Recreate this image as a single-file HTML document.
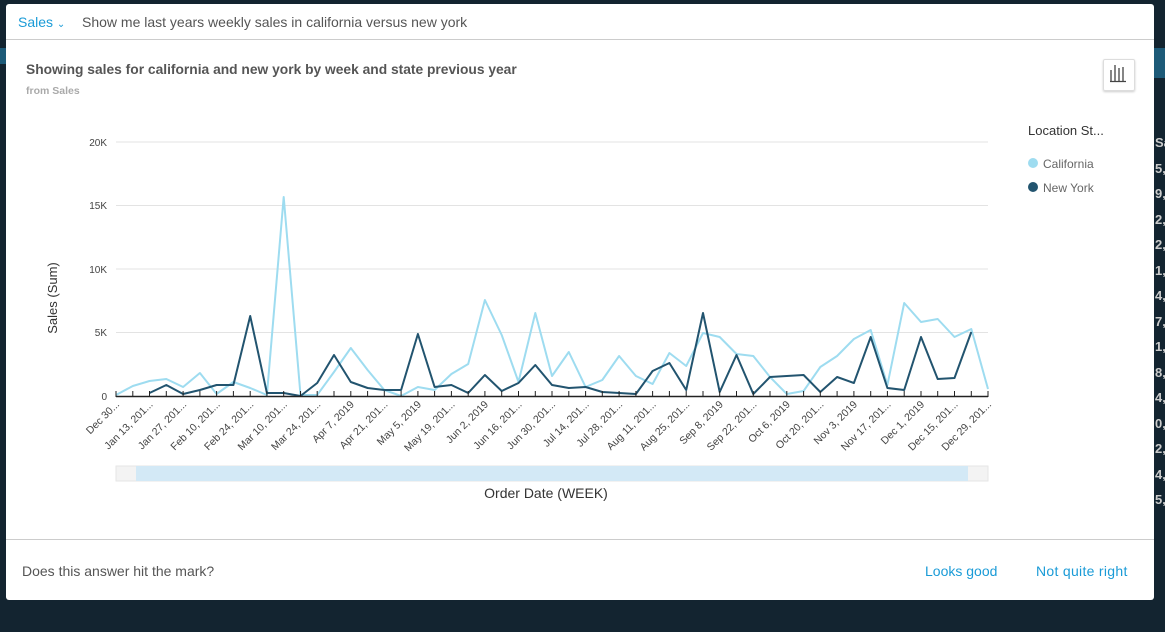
<!DOCTYPE html>
<html><head><meta charset="utf-8"><style>
body{margin:0;width:1165px;height:632px;background:#132430;font-family:"Liberation Sans",sans-serif;position:relative;overflow:hidden}
.modal{position:absolute;left:6px;top:4px;width:1148px;height:596px;background:#fff;border-radius:3px}
.t{position:absolute;white-space:nowrap}
</style></head><body>
<div class="t" style="left:0;top:48px;width:6px;height:16px;background:#1d5a78"></div>
<div class="t" style="left:1154px;top:48px;width:11px;height:30px;background:#1d5a78"></div>
<div class="t" style="left:1155px;top:130px;color:#ccc;font-size:13px;line-height:25.5px;font-weight:bold">Sa<br>5,<br>9,<br>2,<br>2,<br>1,<br>4,<br>7,<br>1,<br>8,<br>4,<br>0,<br>2,<br>4,<br>5,</div>
<div class="modal">
<div class="t" style="left:12px;top:10px;font-size:14px;color:#1a9bd7">Sales <span style="font-size:10px">&#8964;</span></div>
<div class="t" style="left:76px;top:10px;font-size:14px;color:#555">Show me last years weekly sales in california versus new york</div>
<div class="t" style="left:0;top:35px;width:1148px;height:1px;background:#ccc"></div>
<div class="t" style="left:20px;top:58px;font-size:13.8px;font-weight:bold;color:#555">Showing sales for california and new york by week and state previous year</div>
<div class="t" style="left:20px;top:81px;font-size:10.5px;font-weight:bold;color:#aaa">from Sales</div>
<div class="t" style="left:1097px;top:55px;width:30px;height:30px;border:1px solid #ddd;border-radius:2px;box-shadow:0 1px 2px #ccc"></div>
<div class="t" style="left:0;top:535px;width:1148px;height:1px;background:#ccc"></div>
<div class="t" style="left:16px;top:559px;font-size:14px;color:#555">Does this answer hit the mark?</div>
<div class="t" style="left:919px;top:559px;font-size:14px;color:#1a9bd7">Looks good</div>
<div class="t" style="left:1030px;top:559px;font-size:14px;color:#1a9bd7;letter-spacing:0.3px">Not quite right</div>
</div>
<svg width="1165" height="632" style="position:absolute;left:0;top:0" font-family="Liberation Sans, sans-serif">
<g fill="none" stroke="#444" stroke-width="1.3"><path d="M1111 81V70M1115 81V65M1119 81V68M1123 81V67M1110 81.5H1126"/></g>
<g stroke="#e3e3e3" stroke-width="1"><line x1="116" x2="988" y1="142" y2="142"/><line x1="116" x2="988" y1="205.5" y2="205.5"/><line x1="116" x2="988" y1="269" y2="269"/><line x1="116" x2="988" y1="332.5" y2="332.5"/></g>
<g font-size="10" fill="#444" text-anchor="end"><text x="107" y="146">20K</text><text x="107" y="209">15K</text><text x="107" y="273">10K</text><text x="107" y="336">5K</text><text x="107" y="400">0</text></g>
<text transform="translate(57,298) rotate(-90)" font-size="13" fill="#333" text-anchor="middle">Sales (Sum)</text>
<polyline fill="none" stroke="#9edcf0" stroke-width="2" stroke-linejoin="round" points="116,395 132.8,386 149.5,381 166.3,379 183.1,387 199.9,373 216.6,394 233.4,382 250.2,388 266.9,395 283.7,197 300.5,395 317.2,395 334,372 350.8,348 367.6,370 384.3,390 401.1,396 417.9,387 434.6,390 451.4,374 468.2,364 484.9,300 501.7,335 518.5,382 535.3,313 552,376 568.8,352 585.6,387 602.3,380 619.1,356 635.9,376 652.6,384 669.4,353 686.2,366 703,333 719.7,337 736.5,354 753.3,356 770,377 786.8,394 803.6,391 820.3,367 837.1,356 853.9,339 870.7,330 887.4,385 904.2,303 921,322 937.7,319 954.5,337 971.3,329 988,389"/>
<polyline fill="none" stroke="#22546f" stroke-width="2" stroke-linejoin="round" points="149.5,393 166.3,385 183.1,394 199.9,390 216.6,385 233.4,385 250.2,316 266.9,393 283.7,393 300.5,396 317.2,383 334,355 350.8,382 367.6,388 384.3,390 401.1,390 417.9,334 434.6,387 451.4,385 468.2,393 484.9,375 501.7,391 518.5,383 535.3,365 552,385 568.8,388 585.6,387 602.3,392 619.1,393 635.9,394 652.6,371 669.4,363 686.2,390 703,313 719.7,392 736.5,355 753.3,394 770,377 786.8,376 803.6,375 820.3,392 837.1,377 853.9,383 870.7,337 887.4,388 904.2,390 921,337 937.7,379 954.5,378 971.3,332"/>
<line x1="116" x2="988" y1="396.5" y2="396.5" stroke="#222" stroke-width="1.5"/>
<path stroke="#222" stroke-width="1" d="M116 391v6M132.8 391v6M149.5 391v6M166.3 391v6M183.1 391v6M199.9 391v6M216.6 391v6M233.4 391v6M250.2 391v6M266.9 391v6M283.7 391v6M300.5 391v6M317.2 391v6M334 391v6M350.8 391v6M367.6 391v6M384.3 391v6M401.1 391v6M417.9 391v6M434.6 391v6M451.4 391v6M468.2 391v6M484.9 391v6M501.7 391v6M518.5 391v6M535.3 391v6M552 391v6M568.8 391v6M585.6 391v6M602.3 391v6M619.1 391v6M635.9 391v6M652.6 391v6M669.4 391v6M686.2 391v6M703 391v6M719.7 391v6M736.5 391v6M753.3 391v6M770 391v6M786.8 391v6M803.6 391v6M820.3 391v6M837.1 391v6M853.9 391v6M870.7 391v6M887.4 391v6M904.2 391v6M921 391v6M937.7 391v6M954.5 391v6M971.3 391v6M988 391v6"/>
<g font-size="10.5" fill="#444" text-anchor="end">
<text transform="translate(120,405) rotate(-45)">Dec 30...</text>
<text transform="translate(153.5,405) rotate(-45)">Jan 13, 201...</text>
<text transform="translate(187.1,405) rotate(-45)">Jan 27, 201...</text>
<text transform="translate(220.6,405) rotate(-45)">Feb 10, 201...</text>
<text transform="translate(254.2,405) rotate(-45)">Feb 24, 201...</text>
<text transform="translate(287.7,405) rotate(-45)">Mar 10, 201...</text>
<text transform="translate(321.2,405) rotate(-45)">Mar 24, 201...</text>
<text transform="translate(354.8,405) rotate(-45)">Apr 7, 2019</text>
<text transform="translate(388.3,405) rotate(-45)">Apr 21, 201...</text>
<text transform="translate(421.9,405) rotate(-45)">May 5, 2019</text>
<text transform="translate(455.4,405) rotate(-45)">May 19, 201...</text>
<text transform="translate(488.9,405) rotate(-45)">Jun 2, 2019</text>
<text transform="translate(522.5,405) rotate(-45)">Jun 16, 201...</text>
<text transform="translate(556,405) rotate(-45)">Jun 30, 201...</text>
<text transform="translate(589.6,405) rotate(-45)">Jul 14, 201...</text>
<text transform="translate(623.1,405) rotate(-45)">Jul 28, 201...</text>
<text transform="translate(656.6,405) rotate(-45)">Aug 11, 201...</text>
<text transform="translate(690.2,405) rotate(-45)">Aug 25, 201...</text>
<text transform="translate(723.7,405) rotate(-45)">Sep 8, 2019</text>
<text transform="translate(757.3,405) rotate(-45)">Sep 22, 201...</text>
<text transform="translate(790.8,405) rotate(-45)">Oct 6, 2019</text>
<text transform="translate(824.3,405) rotate(-45)">Oct 20, 201...</text>
<text transform="translate(857.9,405) rotate(-45)">Nov 3, 2019</text>
<text transform="translate(891.4,405) rotate(-45)">Nov 17, 201...</text>
<text transform="translate(925,405) rotate(-45)">Dec 1, 2019</text>
<text transform="translate(958.5,405) rotate(-45)">Dec 15, 201...</text>
<text transform="translate(992,405) rotate(-45)">Dec 29, 201...</text>
</g>
<rect x="116" y="466" width="872" height="15" fill="#f3f3f3" stroke="#e6e6e6"/>
<rect x="136" y="466" width="832" height="15" fill="#d3e9f6"/>
<text x="546" y="498" font-size="14" fill="#333" text-anchor="middle">Order Date (WEEK)</text>
<text x="1028" y="135" font-size="13" fill="#333">Location St...</text>
<circle cx="1033" cy="163" r="5" fill="#9edcf0"/><text x="1043" y="168" font-size="12" fill="#666">California</text>
<circle cx="1033" cy="187" r="5" fill="#22546f"/><text x="1043" y="192" font-size="12" fill="#666">New York</text>
</svg>
</body></html>
